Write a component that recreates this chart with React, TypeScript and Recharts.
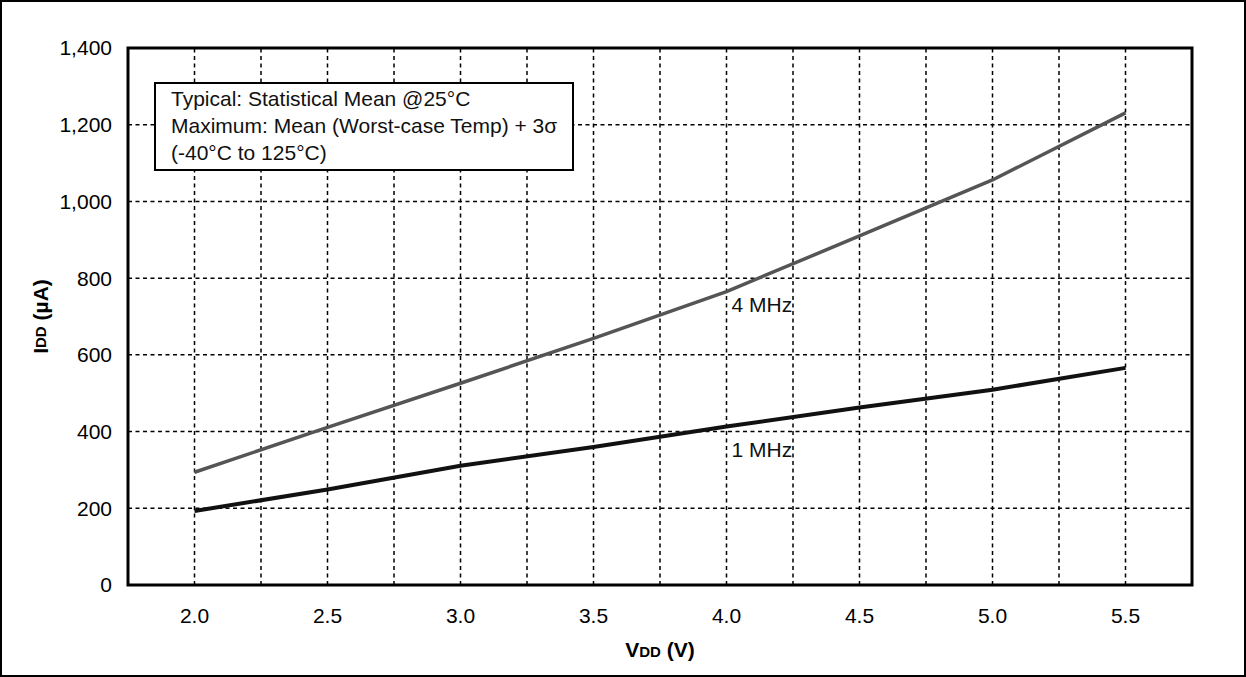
import { LineChart, Line, XAxis, YAxis, CartesianGrid, ReferenceLine, ReferenceArea, LabelList } from 'recharts';

const FONT = '"Liberation Sans", Arial, sans-serif';

// supply voltage (V) along the x axis
const vdd = [2.0, 2.5, 3.0, 3.5, 4.0, 4.5, 5.0, 5.5];
// IDD in µA
const idd1MHz = [193, 249, 311, 360, 413, 463, 509, 566];
const idd4MHz = [294, 411, 526, 643, 765, 910, 1056, 1231];

const xTicks = [2.0, 2.5, 3.0, 3.5, 4.0, 4.5, 5.0, 5.5];
const xGrid = [2.0, 2.25, 2.5, 2.75, 3.0, 3.25, 3.5, 3.75, 4.0, 4.25, 4.5, 4.75, 5.0, 5.25, 5.5];
const yTicks = [0, 200, 400, 600, 800, 1000, 1200, 1400];

const labelAt = 4.0;

const data = vdd.map((v, i) => ({ vdd: v, f1: idd1MHz[i], f4: idd4MHz[i] }));

const curveLabel = (text: string, dy: number) => (props: any) => {
    const { index } = props;
    if (vdd[index] !== labelAt) return null;
    const x = props.x ?? props.viewBox?.x;
    const y = props.y ?? props.viewBox?.y;
    return (
        <text x={x + 5} y={y + dy} fontSize={21} fontFamily={FONT} fill="#111">
            {text}
        </text>
    );
};

const YTitle = (props: any) => {
    const vb = props.viewBox;
    const cx = vb.x - 28;
    const cy = vb.y + vb.height / 2;
    return (
        <text
            x={cx}
            y={cy}
            transform={`rotate(-90, ${cx}, ${cy})`}
            textAnchor="middle"
            dominantBaseline="central"
            fontFamily={FONT}
            fontWeight="bold"
            fill="#000"
        >
            <tspan fontSize={21}>I</tspan>
            <tspan fontSize={15}>DD</tspan>
            <tspan fontSize={21}> (µA)</tspan>
        </text>
    );
};

const XTitle = (props: any) => {
    const vb = props.viewBox;
    return (
        <text
            x={vb.x + vb.width / 2}
            y={vb.y + 72}
            textAnchor="middle"
            fontFamily={FONT}
            fontWeight="bold"
            fill="#000"
        >
            <tspan fontSize={21}>V</tspan>
            <tspan fontSize={15}>DD</tspan>
            <tspan fontSize={21}> (V)</tspan>
        </text>
    );
};

const gridStroke = { stroke: '#000', strokeWidth: 1.5, strokeDasharray: '4 3.5' };

export default function App() {
    return (
        <div style={{ position: 'absolute', left: 0, top: 0, width: 1246, height: 677, background: '#fff' }}>
            <div
                style={{
                    position: 'absolute', left: 0, top: 0, width: 1246, height: 677,
                    border: '2px solid #000', boxSizing: 'border-box',
                }}
            />
            <LineChart
                width={1246}
                height={677}
                data={data}
                margin={{ top: 48, right: 54, bottom: 62, left: 68 }}
                style={{ position: 'absolute', left: 0, top: 0 }}
            >
                <CartesianGrid vertical={false} {...gridStroke} />
                {xGrid.map((g) => (
                    <ReferenceLine key={g} x={g} {...gridStroke} />
                ))}
                <XAxis
                    dataKey="vdd"
                    type="number"
                    domain={[1.75, 5.75]}
                    ticks={xTicks}
                    allowDataOverflow
                    height={30}
                    axisLine={false}
                    tickLine={false}
                    tickSize={6}
                    tickMargin={17}
                    tickFormatter={(v: number) => v.toFixed(1)}
                    tick={{ fill: '#000', fontSize: 21, fontFamily: FONT }}
                    label={{ content: XTitle }}
                />
                <YAxis
                    type="number"
                    domain={[0, 1400]}
                    ticks={yTicks}
                    width={60}
                    axisLine={false}
                    tickLine={false}
                    tickSize={6}
                    tickMargin={10}
                    tickFormatter={(v: number) => v.toLocaleString('en-US')}
                    tick={{ fill: '#000', fontSize: 21, fontFamily: FONT }}
                    label={{ content: YTitle }}
                />
                <Line
                    type="linear"
                    dataKey="f4"
                    stroke="#555"
                    strokeWidth={3.5}
                    dot={false}
                    activeDot={false}
                    isAnimationActive={false}
                >
                    <LabelList dataKey="f4" content={curveLabel('4 MHz', 20)} />
                </Line>
                <Line
                    type="linear"
                    dataKey="f1"
                    stroke="#111"
                    strokeWidth={4}
                    dot={false}
                    activeDot={false}
                    isAnimationActive={false}
                >
                    <LabelList dataKey="f1" content={curveLabel('1 MHz', 30)} />
                </Line>
                <ReferenceArea
                    x1={1.75}
                    x2={5.75}
                    y1={0}
                    y2={1400}
                    fill="none"
                    fillOpacity={0}
                    stroke="#000"
                    strokeWidth={3}
                    ifOverflow="visible"
                />
            </LineChart>
            <div
                style={{
                    position: 'absolute', left: 154, top: 82, width: 420, height: 89,
                    border: '2px solid #000', boxSizing: 'border-box', background: '#fff',
                    padding: '1px 0 0 15px', fontFamily: FONT, fontSize: 21, lineHeight: '27px',
                    color: '#111', whiteSpace: 'nowrap',
                }}
            >
                <div>Typical: Statistical Mean @25°C</div>
                <div>Maximum: Mean (Worst-case Temp) + 3σ</div>
                <div>(-40°C to 125°C)</div>
            </div>
        </div>
    );
}
